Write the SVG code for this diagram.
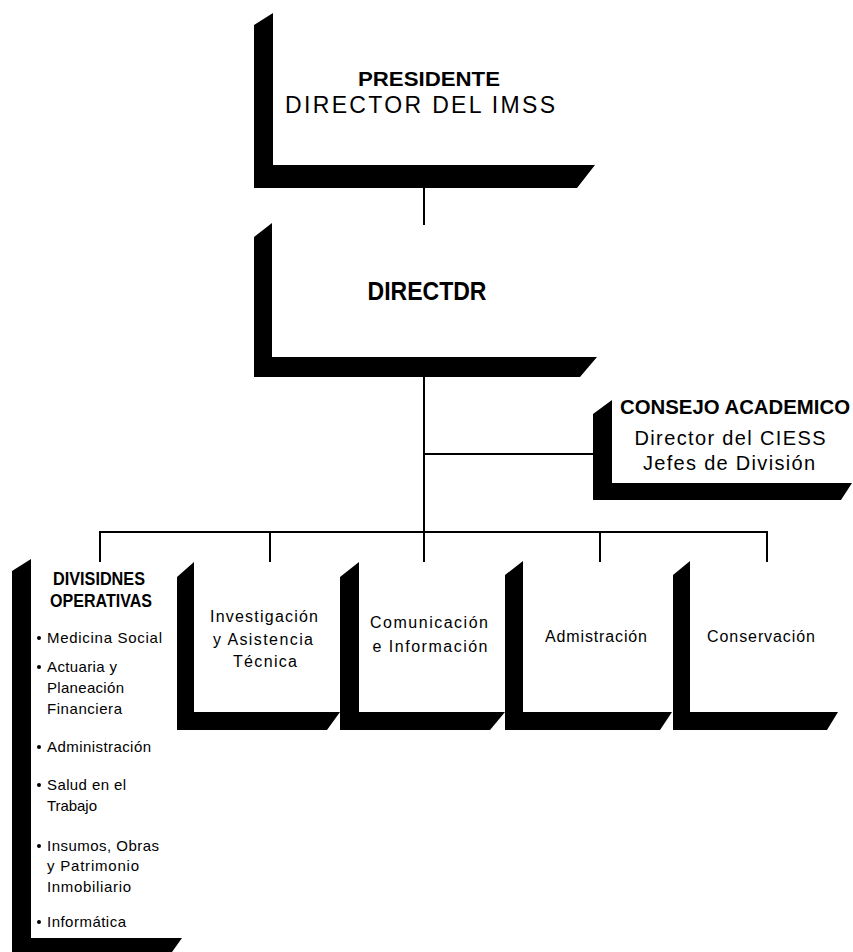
<svg xmlns="http://www.w3.org/2000/svg" width="853" height="952" viewBox="0 0 853 952">
<style>
.bar{fill:#000;stroke:none}
.ln{stroke:#000;stroke-width:2;fill:none}
.hb{font-family:"Liberation Sans",Arial,sans-serif;font-weight:bold;fill:#000}
.t{font-family:"Liberation Sans",Arial,sans-serif;fill:#000}
</style>
<rect width="853" height="952" fill="#fff"/>
<g id="connectors">
<line class="ln" x1="424" y1="186" x2="424" y2="225"/>
<line class="ln" x1="424" y1="376" x2="424" y2="533"/>
<line class="ln" x1="424" y1="454" x2="594" y2="454"/>
<line class="ln" x1="100" y1="532" x2="767" y2="532"/>
<line class="ln" x1="100" y1="531" x2="100" y2="562"/>
<line class="ln" x1="270" y1="531" x2="270" y2="562"/>
<line class="ln" x1="424" y1="531" x2="424" y2="562"/>
<line class="ln" x1="600" y1="531" x2="600" y2="562"/>
<line class="ln" x1="767" y1="531" x2="767" y2="562"/>
</g>
<g id="presidente">
<polygon class="bar" points="254,25 273,13 273,165 595,165 577,188 254,188"/>
<text class="hb" x="429" y="86" font-size="20" text-anchor="middle" textLength="142" lengthAdjust="spacingAndGlyphs">PRESIDENTE</text>
<text class="t" x="420" y="113" font-size="23" text-anchor="middle" textLength="270" lengthAdjust="spacing">DIRECTOR DEL IMSS</text>
</g>
<g id="director">
<polygon class="bar" points="254,237 272,223 272,357 597,357 580,377 254,377"/>
<text class="hb" x="427" y="300" font-size="25" text-anchor="middle" textLength="119" lengthAdjust="spacingAndGlyphs">DIRECTDR</text>
</g>
<g id="consejo">
<polygon class="bar" points="593,414 612,400 612,483 852,483 841,500 593,500"/>
<text class="hb" x="735" y="414" font-size="20" text-anchor="middle" textLength="230" lengthAdjust="spacingAndGlyphs">CONSEJO ACADEMICO</text>
<text class="t" x="730" y="445" font-size="20" text-anchor="middle" textLength="191" lengthAdjust="spacing">Director del CIESS</text>
<text class="t" x="729" y="470" font-size="20" text-anchor="middle" textLength="172" lengthAdjust="spacing">Jefes de División</text>
</g>
<g id="divisiones">
<polygon class="bar" points="12,571 31,559 31,938 182,938 172,952 12,952"/>
<text class="hb" x="99" y="585" font-size="18" text-anchor="middle" textLength="92" lengthAdjust="spacingAndGlyphs">DIVISIDNES</text>
<text class="hb" x="101" y="607" font-size="18" text-anchor="middle" textLength="102" lengthAdjust="spacingAndGlyphs">OPERATIVAS</text>
<circle cx="39" cy="638" r="2"/>
<text class="t" x="47" y="643" font-size="15" textLength="115" lengthAdjust="spacing">Medicina Social</text>
<circle cx="39" cy="667" r="2"/>
<text class="t" x="47" y="672" font-size="15" textLength="70" lengthAdjust="spacing">Actuaria y</text>
<text class="t" x="47" y="693" font-size="15" textLength="77" lengthAdjust="spacing">Planeación</text>
<text class="t" x="47" y="714" font-size="15" textLength="75" lengthAdjust="spacing">Financiera</text>
<circle cx="39" cy="747" r="2"/>
<text class="t" x="47" y="752" font-size="15" textLength="104" lengthAdjust="spacing">Administración</text>
<circle cx="39" cy="785" r="2"/>
<text class="t" x="47" y="790" font-size="15" textLength="79" lengthAdjust="spacing">Salud en el</text>
<text class="t" x="47" y="811" font-size="15" textLength="50" lengthAdjust="spacing">Trabajo</text>
<circle cx="39" cy="846" r="2"/>
<text class="t" x="47" y="851" font-size="15" textLength="112" lengthAdjust="spacing">Insumos, Obras</text>
<text class="t" x="47" y="871" font-size="15" textLength="92" lengthAdjust="spacing">y Patrimonio</text>
<text class="t" x="47" y="892" font-size="15" textLength="84" lengthAdjust="spacing">Inmobiliario</text>
<circle cx="39" cy="922" r="2"/>
<text class="t" x="47" y="927" font-size="15" textLength="79" lengthAdjust="spacing">Informática</text>
</g>
<g id="investigacion">
<polygon class="bar" points="177,577 194,562 194,712 340,712 327,730 177,730"/>
<text class="t" x="264" y="622" font-size="16" text-anchor="middle" textLength="108" lengthAdjust="spacing">Investigación</text>
<text class="t" x="263" y="645" font-size="16" text-anchor="middle" textLength="100" lengthAdjust="spacing">y Asistencia</text>
<text class="t" x="265" y="667" font-size="16" text-anchor="middle" textLength="64" lengthAdjust="spacing">Técnica</text>
</g>
<g id="comunicacion">
<polygon class="bar" points="340,577 359,562 359,712 505,712 490,730 340,730"/>
<text class="t" x="429" y="628" font-size="16" text-anchor="middle" textLength="118" lengthAdjust="spacing">Comunicación</text>
<text class="t" x="430" y="652" font-size="16" text-anchor="middle" textLength="115" lengthAdjust="spacing">e Información</text>
</g>
<g id="administracion">
<polygon class="bar" points="505,575 523,561 523,712 672,712 660,730 505,730"/>
<text class="t" x="596" y="642" font-size="16" text-anchor="middle" textLength="102" lengthAdjust="spacing">Admistración</text>
</g>
<g id="conservacion">
<polygon class="bar" points="673,575 690,561 690,712 838,712 827,730 673,730"/>
<text class="t" x="761" y="642" font-size="16" text-anchor="middle" textLength="108" lengthAdjust="spacing">Conservación</text>
</g>
</svg>
